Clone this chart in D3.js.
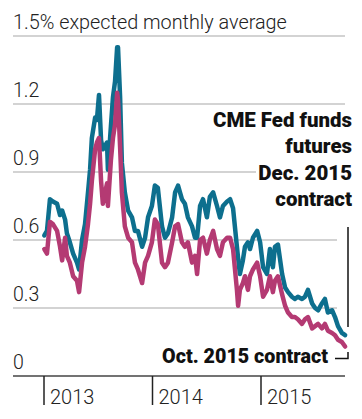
<!DOCTYPE html>
<html>
<head>
<meta charset="utf-8">
<script src="https://cdn.jsdelivr.net/npm/d3@7"></script>
<style>
  html, body { margin: 0; padding: 0; background: #fff; }
  svg { display: block; }
</style>
</head>
<body>
<svg id="chart" width="362" height="419"></svg>
<script>
// ---- Data ----
const dates = [
  "2013-01-02","2013-01-11","2013-01-21","2013-01-31","2013-02-14","2013-02-24","2013-03-03","2013-03-13","2013-03-19","2013-03-29",
  "2013-04-09","2013-04-22","2013-04-29","2013-05-09","2013-05-19","2013-05-29","2013-06-05","2013-06-11","2013-06-22","2013-06-28",
  "2013-07-05","2013-07-12","2013-07-18","2013-08-01","2013-08-04","2013-08-14","2013-08-21","2013-08-28","2013-09-04","2013-09-07",
  "2013-09-14","2013-09-20","2013-09-30","2013-10-11","2013-10-24","2013-11-03","2013-11-13","2013-11-27","2013-12-07","2013-12-17",
  "2013-12-30","2014-01-09","2014-01-19","2014-02-02","2014-02-12","2014-02-22","2014-03-08","2014-03-18","2014-03-28","2014-04-10",
  "2014-04-20","2014-04-30","2014-05-14","2014-05-24","2014-05-31","2014-06-10","2014-06-20","2014-07-03","2014-07-13","2014-07-24",
  "2014-08-06","2014-08-16","2014-08-26","2014-09-09","2014-09-19","2014-09-29","2014-10-12","2014-10-16","2014-10-22","2014-11-01",
  "2014-11-08","2014-11-18","2014-11-25","2014-12-05","2014-12-19","2014-12-29","2015-01-08","2015-01-21","2015-01-31","2015-02-10",
  "2015-02-17","2015-02-27","2015-03-13","2015-03-23","2015-04-02","2015-04-15","2015-04-25","2015-05-05","2015-05-19","2015-05-29",
  "2015-06-08","2015-06-22","2015-07-02","2015-07-12","2015-07-25","2015-08-04","2015-08-14","2015-08-28","2015-09-07","2015-09-17",
  "2015-09-30","2015-10-11"
];
const decContract = [
  0.62,0.64,0.78,0.77,0.76,0.71,0.73,0.69,0.63,0.59,
  0.54,0.50,0.47,0.60,0.67,0.81,0.91,1.05,1.14,1.13,
  1.24,1.04,1.00,1.03,0.91,1.10,1.23,1.30,1.45,1.45,
  1.23,0.94,0.81,0.73,0.70,0.64,0.64,0.57,0.61,0.70,
  0.75,0.84,0.83,0.66,0.61,0.63,0.70,0.81,0.84,0.78,
  0.76,0.70,0.66,0.61,0.61,0.75,0.78,0.70,0.79,0.81,
  0.75,0.70,0.75,0.77,0.78,0.74,0.57,0.52,0.45,0.51,
  0.57,0.59,0.56,0.61,0.64,0.59,0.48,0.45,0.56,0.48,
  0.57,0.58,0.45,0.39,0.37,0.35,0.34,0.35,0.34,0.35,
  0.38,0.32,0.30,0.29,0.32,0.34,0.28,0.29,0.26,0.22,
  0.19,0.18
];
const octContract = [
  0.56,0.54,0.68,0.67,0.64,0.57,0.51,0.61,0.53,0.50,
  0.44,0.42,0.37,0.50,0.57,0.67,0.76,0.86,1.00,1.03,
  1.05,0.86,0.76,0.85,0.75,0.95,1.05,1.11,1.25,1.22,
  1.01,0.81,0.66,0.61,0.59,0.50,0.47,0.41,0.50,0.53,
  0.59,0.69,0.67,0.50,0.48,0.50,0.59,0.66,0.67,0.59,
  0.57,0.59,0.50,0.53,0.45,0.60,0.61,0.54,0.60,0.64,
  0.56,0.53,0.59,0.61,0.61,0.56,0.38,0.31,0.38,0.41,
  0.44,0.38,0.44,0.47,0.50,0.44,0.35,0.38,0.44,0.37,
  0.42,0.44,0.36,0.31,0.28,0.26,0.26,0.25,0.23,0.25,
  0.26,0.21,0.22,0.23,0.21,0.23,0.20,0.19,0.18,0.16,
  0.15,0.13
];
const yTicks = [0, 0.3, 0.6, 0.9, 1.2, 1.5];
const yTickLabels = ["0", "0.3", "0.6", "0.9", "1.2", "1.5% expected monthly average"];
const yearTicks = ["2013-01-01", "2014-01-01", "2015-01-01"];
const yearLabels = ["2013", "2014", "2015"];
const decLabel = ["CME Fed funds", "futures", "Dec. 2015", "contract"];
const octLabel = "Oct. 2015 contract";

// ---- Layout ----
const parse = d3.timeParse("%Y-%m-%d");
const svg = d3.select("#chart");
const lightFont = "Roboto, 'Open Sans', sans-serif";
const boldFont = "Roboto, 'Open Sans', sans-serif";

const x = d3.scaleTime()
  .domain([parse("2013-01-01"), parse("2015-01-01")])
  .range([44, 261]);
const y = d3.scaleLinear().domain([0, 1.5]).range([376, 36]);

// gridlines (right ends vary to leave room for labels)
const gridEnd = {0.3: 337, 0.6: 337, 0.9: 256, 1.2: 345, 1.5: 345};
svg.append("g").selectAll("line")
  .data(yTicks.filter(d => d > 0))
  .join("line")
  .attr("x1", 13).attr("x2", d => gridEnd[d])
  .attr("y1", d => y(d)).attr("y2", d => y(d))
  .attr("stroke", "#c4c4c4").attr("stroke-width", 1.5);

// y labels
const yLab = svg.append("g").selectAll("text")
  .data(yTicks)
  .join("text")
  .attr("x", 13)
  .attr("y", (d, i) => i === yTicks.length - 1 ? y(d) - 7.5 : y(d) - 7)
  .attr("font-family", lightFont)
  .attr("font-weight", 300)
  .attr("font-size", 19.5)
  .attr("fill", "#222")
  .text((d, i) => yTickLabels[i]);
// fit the top label width to the reference (about 274px)
const topLab = yLab.nodes()[yTicks.length - 1];
const tw = topLab.getComputedTextLength();
d3.select(topLab).attr("font-size", 19.5 * 274 / tw);

// x axis baseline
svg.append("line")
  .attr("x1", 13).attr("x2", 345)
  .attr("y1", y(0)).attr("y2", y(0))
  .attr("stroke", "#444").attr("stroke-width", 1.6);

// year ticks & labels
const yt = svg.append("g").selectAll("g")
  .data(yearTicks)
  .join("g")
  .attr("transform", d => `translate(${x(parse(d))},0)`);
yt.append("line")
  .attr("y1", y(0)).attr("y2", 405)
  .attr("stroke", "#222").attr("stroke-width", 1.5);
yt.append("text")
  .attr("x", 6).attr("y", 404)
  .attr("font-family", lightFont)
  .attr("font-weight", 300)
  .attr("font-size", 20)
  .attr("fill", "#222")
  .text((d, i) => yearLabels[i]);

// lines
const series = [
  {values: decContract, color: "#0d6f8e"},
  {values: octContract, color: "#b43a73"}
];
const line = d3.line()
  .x((d, i) => x(parse(dates[i])))
  .y(d => y(d))
  .curve(d3.curveLinear);
svg.append("g").selectAll("path")
  .data(series)
  .join("path")
  .attr("d", s => line(s.values))
  .attr("fill", "none")
  .attr("stroke", s => s.color)
  .attr("stroke-width", 4.5)
  .attr("stroke-linejoin", "round")
  .attr("stroke-linecap", "round");

// Dec label (right aligned, condensed bold)
const decG = svg.append("g");
const decTexts = decG.selectAll("text")
  .data(decLabel)
  .join("text")
  .attr("x", 0)
  .attr("y", (d, i) => 127 + i * 26.5)
  .attr("text-anchor", "end")
  .attr("font-family", boldFont)
  .attr("font-weight", 900)
  .attr("font-size", 21)
  .attr("fill", "#111")
  .text(d => d);
const w0 = decTexts.nodes()[0].getComputedTextLength();
const sx = 139 / w0;
decG.attr("transform", `translate(352,0) scale(${sx},1)`);

// Dec bracket line
svg.append("line")
  .attr("x1", 348).attr("x2", 348)
  .attr("y1", 227).attr("y2", 327)
  .attr("stroke", "#111").attr("stroke-width", 1.5);

// Oct label
const octG = svg.append("g");
const octT = octG.append("text")
  .attr("x", 0).attr("y", 363)
  .attr("text-anchor", "end")
  .attr("font-family", boldFont)
  .attr("font-weight", 900)
  .attr("font-size", 21)
  .attr("fill", "#111")
  .text(octLabel);
const w1 = octT.node().getComputedTextLength();
octG.attr("transform", `translate(328,0) scale(${166 / w1},1)`);

// Oct bracket
svg.append("path")
  .attr("d", "M335,358.5 H348 V352")
  .attr("fill", "none")
  .attr("stroke", "#111").attr("stroke-width", 1.5);
</script>
</body>
</html>
